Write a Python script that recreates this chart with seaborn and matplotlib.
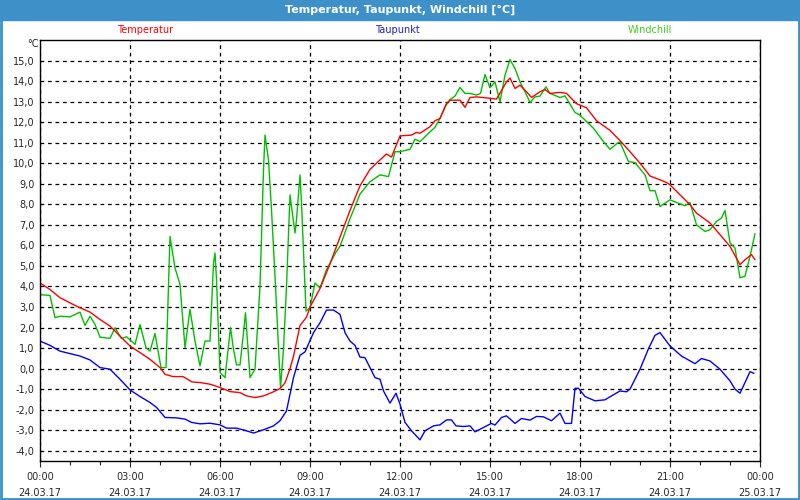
import numpy as np
import pandas as pd
import matplotlib
matplotlib.use("Agg")
import matplotlib.pyplot as plt
from matplotlib.patches import Rectangle
from matplotlib.ticker import FixedLocator, FuncFormatter
import seaborn as sns

# -------------------------------
# DATEN (Minuten ab 00:00, °C)
# -------------------------------
temp_min = [0, 20, 40, 60, 80, 100, 120, 140, 160, 180, 200, 220, 240, 250, 266, 286, 304, 320,
            340, 360, 380, 400, 413, 430, 447, 467, 480, 490, 500, 507, 520, 533, 540, 560, 580,
            600, 620, 640, 660, 680, 693, 703, 720, 743, 753, 760, 780, 790, 800, 813, 820, 840,
            850, 860, 873, 893, 913, 933, 940, 950, 960, 973, 983, 1000, 1010, 1020, 1040, 1053,
            1073, 1093, 1113, 1140, 1160, 1180, 1200, 1220, 1240, 1253, 1260, 1280, 1300, 1313,
            1340, 1360, 1380, 1400, 1410, 1423, 1430]
temp_val = [4.17, 3.85, 3.45, 3.2, 2.96, 2.75, 2.39, 2.07, 1.58, 1.1, 0.78, 0.45, 0.05, -0.28,
            -0.39, -0.39, -0.65, -0.68, -0.76, -0.92, -1.12, -1.17, -1.33, -1.41, -1.33, -1.13,
            -0.97, -0.7, 0.0, 0.6, 2.1, 2.5, 3.0, 3.9, 5.1, 6.4, 7.7, 8.9, 9.7, 10.16, 10.45, 10.3,
            11.33, 11.37, 11.5, 11.46, 11.78, 12.07, 12.18, 12.9, 13.07, 13.07, 12.72, 13.2, 13.23,
            13.18, 13.12, 13.96, 14.15, 13.64, 13.8, 13.48, 13.2, 13.48, 13.59, 13.4, 13.45, 13.4,
            12.9, 12.7, 12.07, 11.6, 11.1, 10.56, 10.0, 9.38, 9.19, 9.06, 8.95, 8.46, 7.98, 7.57,
            7.09, 6.52, 5.95, 5.06, 5.3, 5.55, 5.3]

taup_min = [0, 20, 40, 60, 80, 100, 120, 140, 160, 180, 200, 220, 233, 250, 273, 290, 303, 320,
            340, 360, 373, 393, 413, 427, 447, 467, 480, 493, 507, 520, 530, 547, 560, 573, 587,
            600, 610, 620, 630, 640, 650, 670, 680, 687, 700, 712, 720, 730, 743, 760, 770, 787,
            800, 813, 823, 832, 847, 860, 870, 890, 903, 910, 923, 933, 950, 963, 980, 993, 1007,
            1023, 1040, 1050, 1063, 1070, 1077, 1090, 1110, 1130, 1143, 1160, 1173, 1180, 1200,
            1217, 1230, 1240, 1260, 1283, 1310, 1323, 1340, 1360, 1380, 1390, 1400, 1410, 1420,
            1428]
taup_val = [1.34, 1.13, 0.85, 0.73, 0.61, 0.42, 0.05, -0.03, -0.52, -1.04, -1.36, -1.65, -1.89,
            -2.38, -2.4, -2.46, -2.62, -2.69, -2.66, -2.74, -2.9, -2.9, -3.03, -3.14, -2.98, -2.79,
            -2.54, -2.06, -0.44, 0.65, 0.81, 1.75, 2.23, 2.85, 2.85, 2.64, 1.75, 1.34, 1.13, 0.56,
            0.53, -0.44, -0.52, -1.09, -1.68, -1.2, -1.73, -2.62, -3.03, -3.47, -3.03, -2.79,
            -2.74, -2.5, -2.5, -2.79, -2.82, -2.79, -3.08, -2.83, -2.67, -2.75, -2.38, -2.3, -2.67,
            -2.43, -2.51, -2.33, -2.35, -2.54, -2.17, -2.67, -2.67, -0.96, -0.96, -1.36, -1.57,
            -1.52, -1.33, -1.09, -1.13, -1.0, -0.03, 0.97, 1.62, 1.75, 1.1, 0.61, 0.24, 0.49, 0.37,
            -0.03, -0.6, -1.0, -1.2, -0.68, -0.15, -0.23]

wind_min = [0, 20, 30, 40, 60, 80, 90, 100, 110, 120, 140, 150, 163, 173, 190, 200, 212, 220,
            230, 242, 252, 260, 270, 280, 290, 300, 310, 320, 330, 340, 347, 350, 353, 360, 370,
            377, 381, 387, 393, 400, 407, 411, 420, 430, 440, 447, 450, 457, 463, 470, 477, 481,
            487, 493, 500, 503, 510, 513, 520, 523, 532, 540, 550, 560, 573, 593, 600, 620, 640,
            660, 680, 697, 710, 720, 740, 750, 760, 780, 790, 800, 810, 820, 830, 840, 850, 860,
            873, 881, 890, 900, 910, 920, 930, 940, 950, 960, 970, 980, 990, 1000, 1012, 1020,
            1040, 1050, 1070, 1080, 1107, 1127, 1140, 1157, 1160, 1177, 1190, 1210, 1220, 1230,
            1240, 1260, 1280, 1290, 1300, 1313, 1330, 1340, 1353, 1363, 1370, 1380, 1390, 1400,
            1410, 1420, 1430]
wind_val = [3.6, 3.56, 2.48, 2.55, 2.52, 2.75, 2.1, 2.55, 2.15, 1.53, 1.47, 1.99, 1.46, 1.55,
            1.18, 2.14, 1.02, 0.85, 1.71, 0.05, 0.05, 6.43, 4.9, 4.1, 1.02, 2.88, 1.34, 0.13, 1.34,
            1.34, 5.14, 5.63, 4.33, -0.19, -0.44, 1.1, 1.99, 0.94, 0.18, 0.18, 1.75, 2.72, -0.44,
            -0.03, 4.0, 9.67, 11.37, 10.16, 7.73, 4.5, 1.1, -0.92, 0.94, 4.0, 8.46, 7.89, 6.6,
            7.25, 9.43, 8.06, 2.8, 2.96, 4.17, 3.93, 4.82, 5.71, 5.95, 7.3, 8.5, 9.1, 9.43, 9.35,
            10.56, 10.56, 10.68, 11.17, 11.05, 11.53, 11.75, 12.18, 12.75, 13.1, 13.27, 13.69,
            13.4, 13.4, 13.32, 13.4, 14.32, 13.67, 13.96, 12.99, 14.29, 15.05, 14.61, 13.96,
            13.48, 12.96, 13.23, 13.27, 13.72, 13.4, 13.2, 13.28, 12.47, 12.34, 11.7, 11.05,
            10.68, 11.02, 11.02, 10.08, 10.03, 9.43, 8.66, 8.66, 7.89, 8.22, 8.02, 7.93, 8.09,
            7.0, 6.68, 6.76, 7.17, 7.33, 7.7, 6.12, 5.87, 4.42, 4.5, 5.47, 6.57]

tick_hours = [0, 3, 6, 9, 12, 15, 18, 21, 24]
tick_labels = ["00:00\n24.03.17", "03:00\n24.03.17", "06:00\n24.03.17", "09:00\n24.03.17",
               "12:00\n24.03.17", "15:00\n24.03.17", "18:00\n24.03.17", "21:00\n24.03.17",
               "00:00\n25.03.17"]
y_ticks = list(range(-4, 16))

# -------------------------------
# TABELLE
# -------------------------------
df = pd.concat([
    pd.DataFrame({"h": np.array(temp_min) / 60, "v": temp_val, "serie": "Temperatur"}),
    pd.DataFrame({"h": np.array(taup_min) / 60, "v": taup_val, "serie": "Taupunkt"}),
    pd.DataFrame({"h": np.array(wind_min) / 60, "v": wind_val, "serie": "Windchill"}),
])

farben = {"Temperatur": "#ff0000", "Taupunkt": "#0000ff", "Windchill": "#00c000"}

sns.set_style("white")
plt.rcParams['font.family'] = ['DejaVu Sans']

fig = plt.figure(figsize=(8, 5), dpi=100)
fig.patch.set_facecolor("white")

# Titelleiste + Rahmen
fig.patches.append(Rectangle((0, 1 - 20 / 500), 1, 20 / 500, transform=fig.transFigure,
                             color="#3d91c8", zorder=0))
fig.patches.append(Rectangle((0.001, 0.002), 0.998, 0.996, transform=fig.transFigure,
                             fill=False, edgecolor="#3d91c8", linewidth=2, zorder=0))
fig.text(0.5, 1 - 10 / 500, "Temperatur, Taupunkt, Windchill [°C]", color="white",
         ha="center", va="center", fontsize=8, fontweight="bold")

ax = fig.add_axes([40 / 800, 1 - 461 / 500, 720 / 800, 421 / 500])

sns.lineplot(data=df, x="h", y="v", hue="serie", palette=farben, ax=ax,
             linewidth=1.0, legend=False, sort=False, estimator=None,
             hue_order=["Windchill", "Temperatur", "Taupunkt"])

ax.set_xlim(0, 24)
ax.set_ylim(-4.5, 16)
ax.set_xlabel("")
ax.set_ylabel("")

ax.xaxis.set_major_locator(FixedLocator(tick_hours))
ax.set_xticklabels(tick_labels, linespacing=1.7)
ax.xaxis.set_minor_locator(FixedLocator(range(25)))
ax.yaxis.set_major_locator(FixedLocator(y_ticks))
ax.yaxis.set_major_formatter(FuncFormatter(lambda v, p: f"{v:.1f}".replace(".", ",")))

ax.tick_params(axis="x", which="major", length=4, width=0.8, labelsize=7, pad=4)
ax.tick_params(axis="x", which="minor", length=3, width=0.8)
ax.tick_params(axis="y", which="major", length=0, labelsize=7, pad=4)
ax.tick_params(bottom=True, which="both")

ax.grid(True, which="major", color="black", linestyle=(0, (3, 3)), linewidth=0.9)
for s in ax.spines.values():
    s.set_color("black")
    s.set_linewidth(1.0)

fig.text(39 / 800, 1 - 44 / 500, "°C", ha="right", va="center", fontsize=7)

# Legende
fig.text(145 / 800, 1 - 30 / 500, "Temperatur", color="#ff0000", ha="center", va="center", fontsize=7)
fig.text(397 / 800, 1 - 30 / 500, "Taupunkt", color="#2020c0", ha="center", va="center", fontsize=7)
fig.text(650 / 800, 1 - 30 / 500, "Windchill", color="#40d020", ha="center", va="center", fontsize=7)

fig.savefig("out.png", dpi=100)
